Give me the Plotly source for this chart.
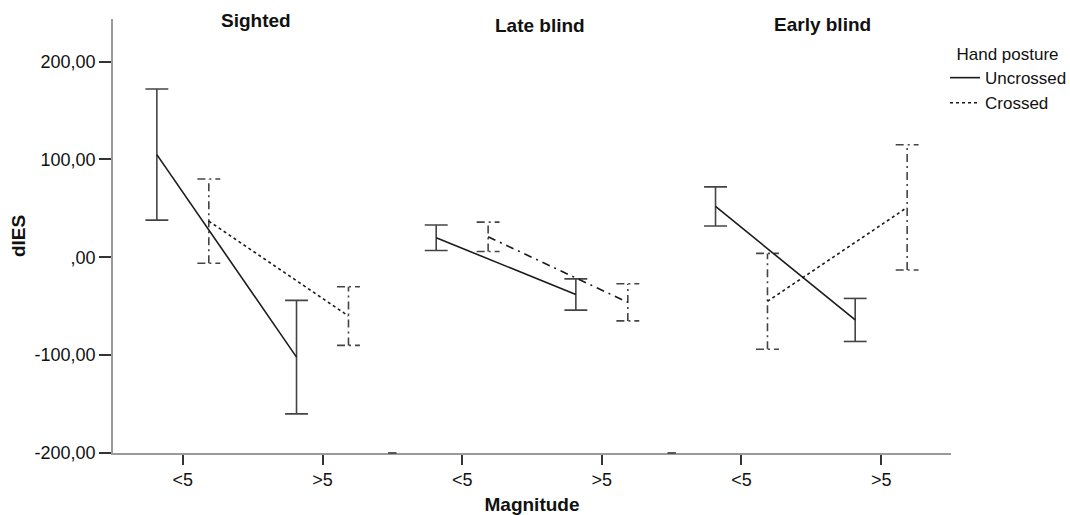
import plotly.graph_objects as go
from plotly.subplots import make_subplots

# ---- data ----
groups = ["Sighted", "Late blind", "Early blind"]
magnitudes = ["<5", ">5"]
series = ["Uncrossed", "Crossed"]
y_ticks = [-200, -100, 0, 100, 200]
y_ticktext = ["-200,00", "-100,00", ",00", "100,00", "200,00"]

# means per group, [<5, >5]
uncrossed_mean = {"Sighted": [105, -102], "Late blind": [20, -38], "Early blind": [52, -64]}
uncrossed_err = {"Sighted": [67, 58], "Late blind": [13, 16], "Early blind": [20, 22]}
crossed_mean = {"Sighted": [37, -60], "Late blind": [21, -46], "Early blind": [-45, 51]}
crossed_err = {"Sighted": [43, 30], "Late blind": [15, 19], "Early blind": [49, 64]}

# ---- styling ----
FONT = "Arial, Liberation Sans, sans-serif"
TXT = "#111111"
OFF = 0.186
CAP = 0.082
DASHDOT = "8px,4px,2px,4px"
crossed_line_dash = {"Sighted": "dot", "Late blind": "8px,5px,2px,5px", "Early blind": "dot"}

fig = make_subplots(rows=1, cols=3, shared_yaxes=True, horizontal_spacing=0)


def errbar_xy(xs, means, errs):
    ex, ey = [], []
    for x, m, e in zip(xs, means, errs):
        ex += [x, x, None, x - CAP, x + CAP, None, x - CAP, x + CAP, None]
        ey += [m - e, m + e, None, m + e, m + e, None, m - e, m - e, None]
    return ex, ey


for i, g in enumerate(groups):
    col = i + 1
    base = list(range(len(magnitudes)))
    xu = [b - OFF for b in base]
    xc = [b + OFF for b in base]

    ex, ey = errbar_xy(xu, uncrossed_mean[g], uncrossed_err[g])
    fig.add_trace(go.Scatter(x=ex, y=ey, mode="lines", line=dict(color="#444444", width=1.6),
                             showlegend=False, hoverinfo="skip"), row=1, col=col)
    ex, ey = errbar_xy(xc, crossed_mean[g], crossed_err[g])
    fig.add_trace(go.Scatter(x=ex, y=ey, mode="lines", line=dict(color="#444444", width=1.6, dash=DASHDOT),
                             showlegend=False, hoverinfo="skip"), row=1, col=col)

    fig.add_trace(go.Scatter(x=xu, y=uncrossed_mean[g], mode="lines", name="Uncrossed",
                             legendgroup="u", showlegend=(i == 0),
                             line=dict(color="#1a1a1a", width=1.6)), row=1, col=col)
    fig.add_trace(go.Scatter(x=xc, y=crossed_mean[g], mode="lines", name="Crossed",
                             legendgroup="c", showlegend=(i == 0),
                             line=dict(color="#1a1a1a", width=1.6, dash=crossed_line_dash[g])),
                  row=1, col=col)

for i in range(3):
    fig.update_xaxes(range=[-0.5, 1.5], tickvals=[0, 1], ticktext=magnitudes,
                     showline=True, linecolor="#9a9a9a", linewidth=1.6,
                     ticks="outside", ticklen=10, tickwidth=1.6, tickcolor="#333333",
                     showgrid=False, zeroline=False, fixedrange=True, automargin=False,
                     tickfont=dict(family=FONT, size=18, color=TXT), row=1, col=i + 1)
    fig.update_yaxes(range=[-200, 243.6], showgrid=False, zeroline=False, automargin=False,
                     fixedrange=True, row=1, col=i + 1)

fig.update_yaxes(tickvals=y_ticks, ticktext=y_ticktext, showline=True, linecolor="#9a9a9a",
                 linewidth=1.6, ticks="outside", ticklen=12, tickwidth=1.6, tickcolor="#333333",
                 tickfont=dict(family=FONT, size=18, color=TXT),
                 title=dict(text="<b>dIES</b>", font=dict(family=FONT, size=19, color=TXT), standoff=4),
                 row=1, col=1)
fig.update_xaxes(title=dict(text="<b>Magnitude</b>", font=dict(family=FONT, size=19, color=TXT), standoff=8),
                 row=1, col=2)

# small dark marks where the panels meet on the bottom axis
for ax in ["x2", "x3"]:
    fig.add_shape(type="line", xref=ax + " domain", yref="paper", x0=-0.015, x1=0.015, y0=0, y1=0,
                  line=dict(color="#555555", width=2))

title_pos = [(256, 21), (540, 25), (822, 24)]
L, R, T, B = 113, 951, 19, 453
for g, (px, py) in zip(groups, title_pos):
    fig.add_annotation(text="<b>%s</b>" % g, xref="paper", yref="paper",
                       x=(px - L) / (R - L), y=(B - py) / (B - T), xanchor="center", yanchor="middle",
                       showarrow=False, font=dict(family=FONT, size=19, color=TXT))

fig.update_layout(
    width=1070, height=515,
    margin=dict(l=L, r=1070 - R, t=T, b=515 - B, autoexpand=False),
    paper_bgcolor="white", plot_bgcolor="white",
    font=dict(family=FONT, size=17, color=TXT),
    legend=dict(x=(945 - L) / (R - L), y=(B - 38) / (B - T), xanchor="left", yanchor="top",
                title=dict(text="\u00a0\u00a0Hand posture", font=dict(family=FONT, size=17, color=TXT)),
                font=dict(family=FONT, size=17, color=TXT), tracegroupgap=0,
                bgcolor="rgba(0,0,0,0)"),
    showlegend=True,
)

fig.write_html("out.html", config={"displayModeBar": False},
               post_script="document.body.style.margin='0';document.body.style.overflow='hidden';")
